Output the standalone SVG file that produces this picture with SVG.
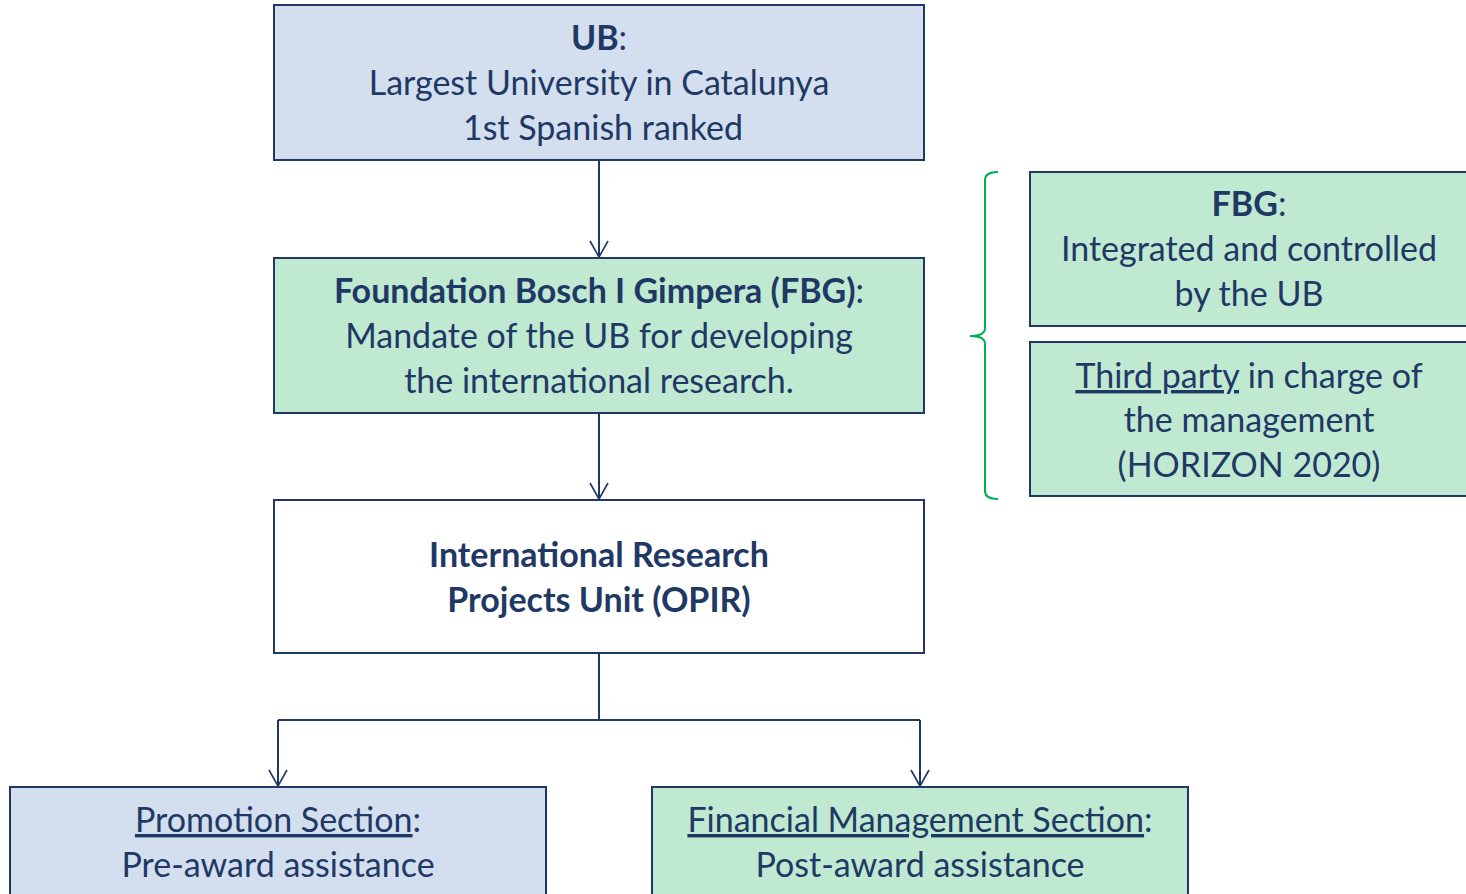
<svg xmlns="http://www.w3.org/2000/svg" width="1466" height="894" viewBox="0 0 1466 894">
  <style>
    .box { stroke: #1F3864; stroke-width: 2; }
    .blue { fill: #D3DFEF; }
    .green { fill: #C0E9D2; }
    .white { fill: #FFFFFF; }
    .t { font-family: Lato, "Open Sans", sans-serif; font-size: 34px; fill: #1F3864; text-anchor: middle; }
    .b { font-weight: bold; }
    .u { text-decoration: underline; }
    .conn { fill: none; stroke: #1F3864; stroke-width: 2; }
    .head { fill: none; stroke: #1F3864; stroke-width: 1.6; }
  </style>
  <rect width="1466" height="894" fill="#FFFFFF"/>

  <g id="connectors">
    <path class="conn" d="M599,160 V257"/>
    <path class="conn" d="M599,413 V499"/>
    <path class="conn" d="M599,653 V720 M278,720 H920 M278,720 V786 M920,720 V786"/>
    <!-- open arrowheads at the end of each drop -->
    <path class="head" d="M590,241 L599,257 L608,241 M590,483 L599,499 L608,483 M269,770 L278,786 L287,770 M911,770 L920,786 L929,770"/>
  </g>

  <g id="ub">
    <rect class="box blue" x="274" y="5" width="650" height="155"/>
    <text class="t" x="599" y="50"><tspan class="b">UB</tspan>:</text>
    <text class="t" x="599" y="95">Largest University in Catalunya</text>
    <text class="t" x="603" y="140">1st Spanish ranked</text>
  </g>

  <g id="fbg">
    <rect class="box green" x="274" y="258" width="650" height="155"/>
    <text class="t" x="599" y="303"><tspan class="b">Foundation Bosch I Gimpera (FBG)</tspan>:</text>
    <text class="t" x="599" y="348">Mandate of the UB for developing</text>
    <text class="t" x="599" y="393">the international research.</text>
  </g>

  <g id="opir">
    <rect class="box white" x="274" y="500" width="650" height="153"/>
    <text class="t b" x="599" y="567">International Research</text>
    <text class="t b" x="599" y="612">Projects Unit (OPIR)</text>
  </g>

  <g id="fbg-role">
    <rect class="box green" x="1030" y="172" width="440" height="154"/>
    <text class="t" x="1249" y="216"><tspan class="b">FBG</tspan>:</text>
    <text class="t" x="1249" y="261">Integrated and controlled</text>
    <text class="t" x="1249" y="306">by the UB</text>
  </g>

  <g id="third-party">
    <rect class="box green" x="1030" y="342" width="440" height="154"/>
    <text class="t" x="1249" y="388"><tspan class="u">Third party</tspan> in charge of</text>
    <text class="t" x="1249" y="432">the management</text>
    <text class="t" x="1249" y="477">(HORIZON 2020)</text>
  </g>

  <g id="bracket">
    <path d="M998,172 Q985,172 985,180 V328 Q985,336 970,336 Q985,336 985,344 V491 Q985,499 998,499" fill="none" stroke="#00B050" stroke-width="2"/>
  </g>

  <g id="promotion">
    <rect class="box blue" x="10" y="787" width="536" height="120"/>
    <text class="t" x="278" y="832"><tspan class="u">Promotion Section</tspan>:</text>
    <text class="t" x="278" y="877">Pre-award assistance</text>
  </g>

  <g id="financial">
    <rect class="box green" x="652" y="787" width="536" height="120"/>
    <text class="t" x="920" y="832"><tspan class="u">Financial Management Section</tspan>:</text>
    <text class="t" x="920" y="877">Post-award assistance</text>
  </g>
</svg>
